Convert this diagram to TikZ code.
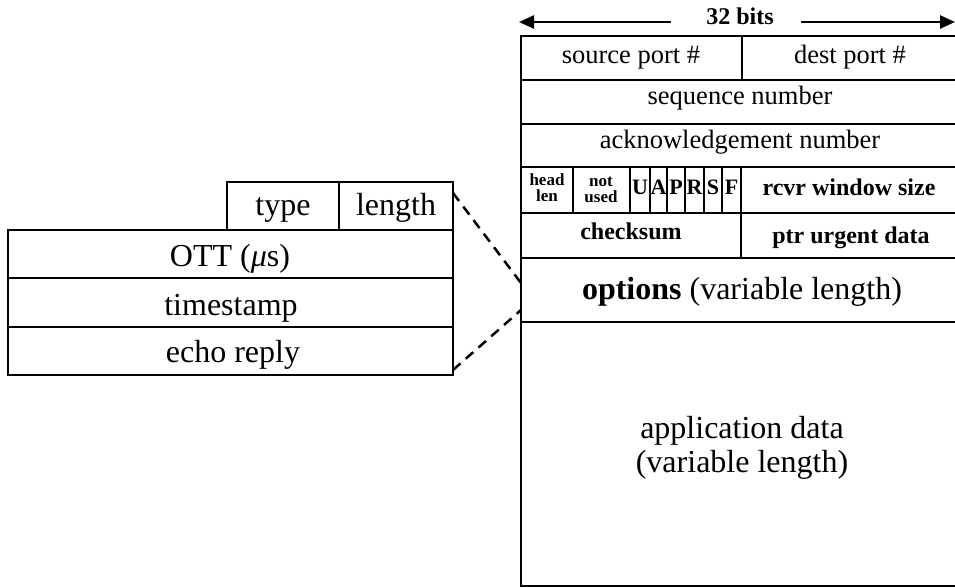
\documentclass[tikz,border=0pt]{standalone}
\usepackage{fontspec}
\setmainfont{Liberation Serif}
\usetikzlibrary{arrows.meta}
\begin{document}
\begin{tikzpicture}[x=1pt,y=-1pt,
  cell/.style={draw, line width=1.3pt, inner sep=0pt, outer sep=0pt, anchor=north west},
  txt/.style={anchor=base, inner sep=0pt, font=\fontsize{26.5}{30}\selectfont},
  big/.style={anchor=base, inner sep=0pt, font=\fontsize{32}{36}\selectfont},
  bld/.style={anchor=base, inner sep=0pt, font=\bfseries\fontsize{24}{28}\selectfont},
  flag/.style={anchor=base, inner sep=0pt, font=\bfseries\fontsize{22}{26}\selectfont},
  tiny/.style={anchor=base, inner sep=0pt, align=center, font=\bfseries\fontsize{17}{16}\selectfont},
  widtharrow/.style={line width=2.5pt, -{Triangle[length=15pt,width=13pt]}},
  zoomline/.style={line width=2.5pt, dash pattern=on 10pt off 7pt}]
\useasboundingbox (0,0) rectangle (955,588);

% ---------- TCP segment ----------
\node[cell, minimum width=221pt, minimum height=44pt] (srcp) at (521,36) {};
\node[cell, minimum width=216pt, minimum height=44pt] (dstp) at (742,36) {};
\node[cell, minimum width=437pt, minimum height=44pt] (seq) at (521,80) {};
\node[cell, minimum width=437pt, minimum height=43pt] (ack) at (521,124) {};
\node[cell, minimum width=52pt, minimum height=46pt] (hl) at (521,167) {};
\node[cell, minimum width=57pt, minimum height=46pt] (nu) at (573,167) {};
\node[cell, minimum width=20pt, minimum height=46pt] (fu) at (630,167) {};
\node[cell, minimum width=17pt, minimum height=46pt] (fa) at (650,167) {};
\node[cell, minimum width=18pt, minimum height=46pt] (fp) at (667,167) {};
\node[cell, minimum width=19pt, minimum height=46pt] (fr) at (685,167) {};
\node[cell, minimum width=18pt, minimum height=46pt] (fs) at (704,167) {};
\node[cell, minimum width=19pt, minimum height=46pt] (ff) at (722,167) {};
\node[cell, minimum width=217pt, minimum height=46pt] (rcvr) at (741,167) {};
\node[cell, minimum width=220pt, minimum height=45pt] (cks) at (521,213) {};
\node[cell, minimum width=217pt, minimum height=45pt] (urg) at (741,213) {};
\node[cell, minimum width=437pt, minimum height=64pt] (opt) at (521,258) {};
\node[cell, minimum width=437pt, minimum height=264pt] (app) at (521,322) {};
\draw[line width=2.6pt] (opt.south west) -- (opt.south east);

\node[txt] at (631,64) {source port \#};
\node[txt] at (850,64) {dest port \#};
\node[txt] at (740,105) {sequence number};
\node[txt] at (740,149) {acknowledgement number};
\node[tiny] at (547,201) {head\\len};
\node[tiny] at (601,202) {not\\used};
\node[flag] at (640,195) {U};
\node[flag] at (658.5,195) {A};
\node[flag] at (676,195) {P};
\node[flag] at (694.5,195) {R};
\node[flag] at (713,195) {S};
\node[flag] at (731.5,195) {F};
\node[bld] at (849,196) {rcvr window size};
\node[bld] at (631,239) {checksum};
\node[bld] at (851,243) {ptr urgent data};
\node[big] at (742,299) {\textbf{options} (variable length)};
\node[big] at (742,438) {application data};
\node[big] at (742,472) {(variable length)};

% width arrow
\node[bld] (bits) at (740,25) {32 bits};
\coordinate (la) at (519,22);
\coordinate (ra) at (955,22);
\draw[widtharrow] ([xshift=-35pt]bits.west |- la) -- (la);
\draw[widtharrow] ([xshift=27pt]bits.east |- ra) -- (ra);

% ---------- option layout ----------
\node[cell, minimum width=112pt, minimum height=48pt] (type) at (227,182) {};
\node[cell, minimum width=114pt, minimum height=48pt] (len) at (339,182) {};
\node[cell, minimum width=445pt, minimum height=48pt] (ott) at (8,230) {};
\node[cell, minimum width=445pt, minimum height=49pt] (ts) at (8,278) {};
\node[cell, minimum width=445pt, minimum height=48pt] (echo) at (8,327) {};

\node[big] at (283,215) {type};
\node[big] at (396,215) {length};
\node[big] at (230,266) {OTT (\textit{μ}s)};
\node[big] at (231,315) {timestamp};
\node[big] at (233,362) {echo reply};

% zoom lines
\coordinate (zt) at (521,283);
\coordinate (zb) at (521,310);
\draw[zoomline] ([yshift=-11pt]len.north east) -- (zt);
\draw[zoomline] ([yshift=5pt]echo.south east) -- (zb);
\end{tikzpicture}
\end{document}
